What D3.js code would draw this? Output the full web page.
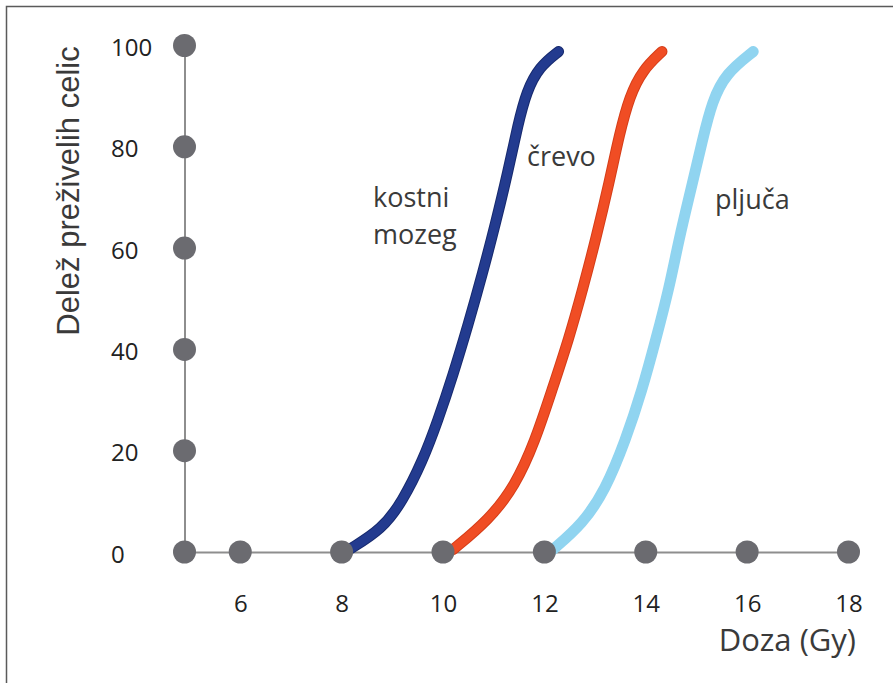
<!DOCTYPE html>
<head>
<meta charset="utf-8">
<title>Delež preživelih celic</title>
<script src="https://d3js.org/d3.v7.min.js"></script>
<style>
  body { margin: 0; background: #fff; }
  svg { display: block; }
</style>
</head>
<body>
<div id="home"></div>
<script>
// values
const doseTicks = [6, 8, 10, 12, 14, 16, 18];
const shareTicks = [0, 20, 40, 60, 80, 100];
const doseMin = 4.9;

const organs = ["kostni mozeg", "črevo", "pljuča"];

const kostniDose  = [8.15, 8.8, 9.2, 9.6, 9.9, 10.2, 10.5, 10.78, 11.04, 11.28, 11.48, 11.65, 11.9, 12.28];
const kostniShare = [0.5, 4.5, 10, 18, 26, 35, 45, 55, 65, 75, 84.5, 91, 95.8, 98.8];

const crevoDose  = [10.2, 10.9, 11.42, 11.82, 12.15, 12.48, 12.76, 13.02, 13.28, 13.48, 13.68, 13.94, 14.32];
const crevoShare = [0.5, 6.3, 13, 22, 32, 42, 52, 62, 73, 82.5, 90, 95.2, 98.8];

const pljucaDose  = [12.17, 12.76, 13.2, 13.6, 13.93, 14.2, 14.46, 14.66, 14.89, 15.12, 15.31, 15.58, 16.12];
const pljucaShare = [0.5, 5.6, 12.2, 22, 32, 42, 52, 62, 71.5, 81.4, 89, 94.5, 98.8];

const w = 893, h = 683;

const svg = d3.select("#home").append("svg")
  .attr("width", w)
  .attr("height", h);

// frame (top and left edges only show)
svg.append("path")
  .attr("d", "M6.5," + h + "V6.5H" + w)
  .attr("fill", "none")
  .attr("stroke", "#5a5a5a")
  .attr("stroke-width", 1.5);

const x = d3.scaleLinear().domain([doseMin, 18]).range([184.5, 848.5]);
const y = d3.scaleLinear().domain([0, 100]).range([552, 45.5]);

const tickFont = "'Open Sans', sans-serif";

// x axis
const xAxis = svg.append("g")
  .attr("transform", "translate(0,552)")
  .call(d3.axisBottom(x).tickValues(doseTicks).tickSize(0).tickSizeOuter(0).tickPadding(43));
xAxis.select(".domain").attr("stroke", "#8e8e8e").attr("stroke-width", 2);
xAxis.selectAll("text")
  .attr("font-family", tickFont)
  .attr("font-size", 24)
  .attr("fill", "#222");

// y axis
const yAxis = svg.append("g")
  .attr("transform", "translate(184.5,0)")
  .call(d3.axisLeft(y).tickValues(shareTicks).tickSize(0).tickSizeOuter(0));
yAxis.select(".domain").attr("stroke", "#8e8e8e").attr("stroke-width", 2);
yAxis.selectAll("text")
  .attr("text-anchor", "start")
  .attr("x", -73.5)
  .attr("dy", "0.42em")
  .attr("font-family", tickFont)
  .attr("font-size", 24)
  .attr("fill", "#222");

svg.selectAll(".domain").attr("stroke-linecap", "butt");
svg.selectAll(".tick line").remove();

// axis titles
svg.append("text")
  .attr("transform", "translate(79,191) rotate(-90)")
  .attr("text-anchor", "middle")
  .attr("font-family", "'Liberation Sans', Arial, sans-serif")
  .attr("font-size", 31)
  .attr("fill", "#3a3a3a")
  .text("Delež preživelih celic");

svg.append("text")
  .attr("x", 856)
  .attr("y", 651)
  .attr("text-anchor", "end")
  .attr("font-family", tickFont)
  .attr("font-size", 31)
  .attr("fill", "#3a3a3a")
  .text("Doza (Gy)");

// curves
const line = d3.line()
  .x(d => x(d[0]))
  .y(d => y(d[1]))
  .curve(d3.curveBasis);

const series = [
  { dose: kostniDose, share: kostniShare, color: "#233b8f", edge: "#172a6e", width: 10 },
  { dose: crevoDose, share: crevoShare, color: "#f04d24", edge: "#d53d18", width: 10 },
  { dose: pljucaDose, share: pljucaShare, color: "#90d4f0", edge: "#90d4f0", width: 10 }
];

series.forEach(s => {
  const pts = s.dose.map((d, i) => [d, s.share[i]]);
  svg.append("path")
    .attr("d", line(pts))
    .attr("fill", "none")
    .attr("stroke", s.edge)
    .attr("stroke-width", s.width + 1)
    .attr("stroke-linecap", "round");
  svg.append("path")
    .attr("d", line(pts))
    .attr("fill", "none")
    .attr("stroke", s.color)
    .attr("stroke-width", s.width - 1)
    .attr("stroke-linecap", "round");
});

// dots on the axes
svg.selectAll("circle.xd")
  .data([doseMin].concat(doseTicks))
  .enter().append("circle")
  .attr("class", "xd")
  .attr("cx", d => x(d))
  .attr("cy", y(0))
  .attr("r", 11.5)
  .attr("fill", "#6b6b70");

svg.selectAll("circle.yd")
  .data(shareTicks.slice(1))
  .enter().append("circle")
  .attr("class", "yd")
  .attr("cx", x(doseMin))
  .attr("cy", d => y(d))
  .attr("r", 11.5)
  .attr("fill", "#6b6b70");

// curve labels
const labelFont = "'Open Sans', sans-serif";
const labels = [
  { lines: ["kostni", "mozeg"], x: 373, y: 207 },
  { lines: ["črevo"], x: 527, y: 166 },
  { lines: ["pljuča"], x: 715, y: 209 }
];
labels.forEach((l, k) => {
  const t = svg.append("text")
    .attr("font-family", labelFont)
    .attr("font-size", 27)
    .attr("fill", "#3a3a3a")
    .attr("data-organ", organs[k]);
  l.lines.forEach((s, i) => {
    t.append("tspan").attr("x", l.x).attr("y", l.y + i * 37).text(s);
  });
});
</script>
</body>
